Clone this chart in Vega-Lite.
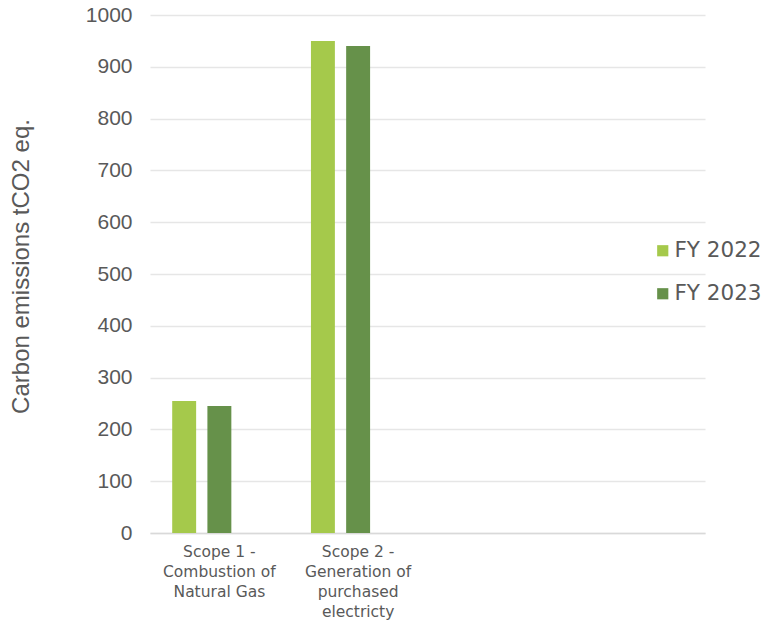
{
  "$schema": "https://vega.github.io/schema/vega-lite/v6.json",
  "width": 555,
  "height": 518,
  "autosize": {"type": "none"},
  "padding": {"left": 150, "top": 15, "right": 56, "bottom": 87},
  "background": "white",
  "config": {"view": {"stroke": null}},
  "data": {
    "values": [
      {"category": "Scope 1 -|Combustion of|Natural Gas", "year": "FY 2022", "emissions": 255},
      {"category": "Scope 1 -|Combustion of|Natural Gas", "year": "FY 2023", "emissions": 245},
      {"category": "Scope 2 -|Generation of|purchased|electricty", "year": "FY 2022", "emissions": 950},
      {"category": "Scope 2 -|Generation of|purchased|electricty", "year": "FY 2023", "emissions": 940}
    ]
  },
  "mark": {"type": "bar"},
  "encoding": {
    "x": {
      "field": "category",
      "type": "nominal",
      "sort": null,
      "scale": {
        "domain": ["Scope 1 -|Combustion of|Natural Gas", "Scope 2 -|Generation of|purchased|electricty", "_3", "_4"],
        "paddingInner": 0.32,
        "paddingOuter": 0.16
      },
      "axis": {
        "title": null,
        "labelExpr": "substring(datum.value, 0, 1) == '_' ? '' : split(datum.value, '|')",
        "labelAngle": 0,
        "labelFont": "DejaVu Sans",
        "labelFontSize": 15.5,
        "labelColor": "#595959",
        "labelLineHeight": 20,
        "labelPadding": 11,
        "ticks": false,
        "domainColor": "#d9d9d9",
        "domainWidth": 1.5,
        "labelBaseline": "top"
      }
    },
    "xOffset": {
      "field": "year",
      "type": "nominal",
      "scale": {"domain": ["FY 2022", "FY 2023", "_"], "paddingInner": 0.32}
    },
    "y": {
      "field": "emissions",
      "type": "quantitative",
      "scale": {"domain": [0, 1000], "nice": false},
      "axis": {
        "title": "Carbon emissions tCO2 eq.",
        "titleFont": "Liberation Sans",
        "titleFontSize": 24,
        "titleFontWeight": "normal",
        "titleColor": "#595959",
        "titlePadding": 52,
        "titleY": 251,
        "format": "d",
        "values": [0, 100, 200, 300, 400, 500, 600, 700, 800, 900, 1000],
        "labelFont": "Liberation Sans",
        "labelFontSize": 21,
        "labelColor": "#595959",
        "labelPadding": 18,
        "ticks": false,
        "domain": false,
        "gridColor": "#e6e6e6",
        "gridWidth": 1.5
      }
    },
    "color": {
      "field": "year",
      "type": "nominal",
      "scale": {"domain": ["FY 2022", "FY 2023"], "range": ["#a5c94b", "#66914a"]},
      "legend": {
        "title": null,
        "orient": "none",
        "legendX": 502,
        "legendY": 225,
        "symbolType": "square",
        "symbolSize": 125,
        "symbolStrokeWidth": 0,
        "labelFont": "DejaVu Sans",
        "labelFontSize": 21.5,
        "labelColor": "#595959",
        "labelOffset": 1,
        "rowPadding": 20
      }
    }
  }
}
